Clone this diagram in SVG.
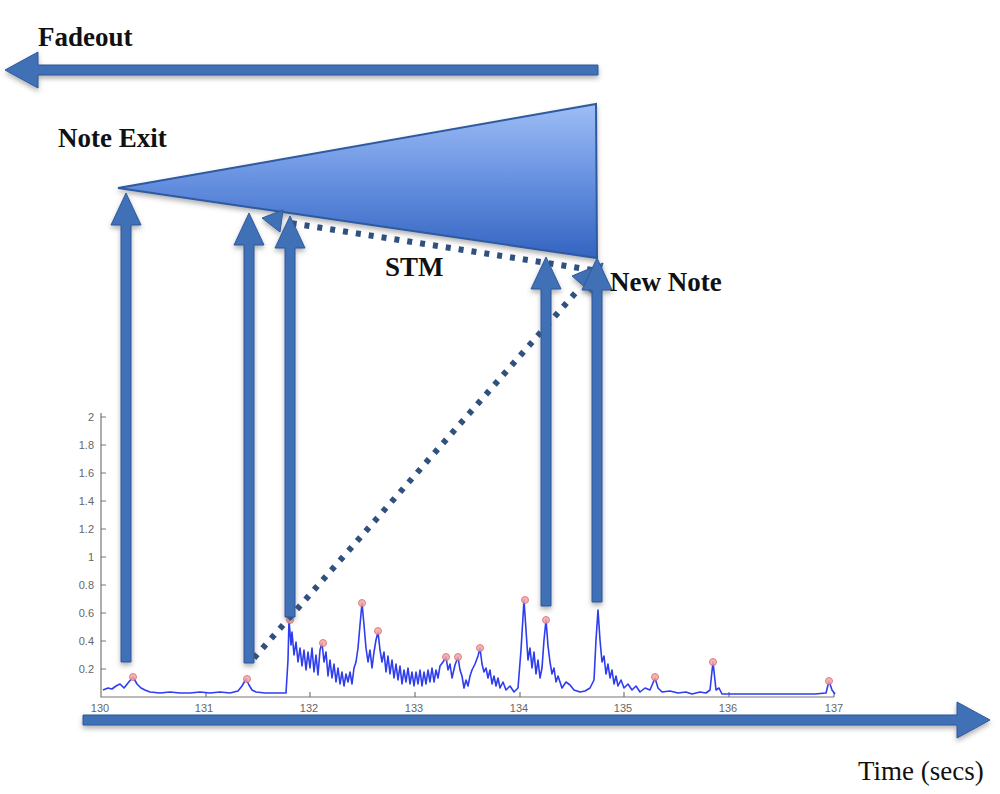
<svg xmlns="http://www.w3.org/2000/svg" width="1000" height="794" viewBox="0 0 1000 794">
<defs>
<linearGradient id="tri" x1="0" y1="104" x2="0" y2="258" gradientUnits="userSpaceOnUse">
<stop offset="0" stop-color="#9dbdf5"/>
<stop offset="0.5" stop-color="#6690e0"/>
<stop offset="1" stop-color="#3364c0"/>
</linearGradient>
<filter id="sh" x="-20%" y="-20%" width="140%" height="160%">
<feDropShadow dx="0" dy="3" stdDeviation="2.5" flood-color="#555" flood-opacity="0.45"/>
</filter>
<filter id="soft" x="-5%" y="-5%" width="110%" height="110%">
<feGaussianBlur stdDeviation="0.6"/>
</filter>
<style>
.arr{fill:#3f6fb6;stroke:#2f5b9c;stroke-width:1;filter:url(#sh)}
.dot{fill:none;stroke:#30507f;stroke-width:6;stroke-dasharray:5 8}
.lbl{font-family:"Liberation Serif",serif;font-weight:bold;font-size:27px;fill:#111}
.tick{font-family:"Liberation Sans",sans-serif;font-size:11px;fill:#666}
.ax{stroke:#777;stroke-width:1.2;fill:none}
.sig{fill:none;stroke:#2d3cf0;stroke-width:1.6;stroke-linejoin:round}
.mk{fill:#f3a6a6;stroke:#d86a6a;stroke-width:1;opacity:0.85}
</style>
</defs>
<rect width="1000" height="794" fill="#fff"/>

<g id="plot">
<path class="ax" d="M101 413 L101 697 L834 697"/>
<g class="ax">
<path d="M101 417h5M101 445h5M101 473h5M101 501h5M101 529h5M101 557h5M101 585h5M101 613h5M101 641h5M101 669h5"/>
<path d="M206 697v-5M310 697v-5M415 697v-5M520 697v-5M624 697v-5M729 697v-5M834 697v-5"/>
</g>
<g class="tick" text-anchor="end">
<text x="94" y="421">2</text>
<text x="94" y="449">1.8</text>
<text x="94" y="477">1.6</text>
<text x="94" y="505">1.4</text>
<text x="94" y="533">1.2</text>
<text x="94" y="561">1</text>
<text x="94" y="589">0.8</text>
<text x="94" y="617">0.6</text>
<text x="94" y="645">0.4</text>
<text x="94" y="673">0.2</text>
</g>
<g class="tick" text-anchor="middle">
<text x="100" y="712">130</text>
<text x="204" y="712">131</text>
<text x="309" y="712">132</text>
<text x="414" y="712">133</text>
<text x="519" y="712">134</text>
<text x="623" y="712">135</text>
<text x="728" y="712">136</text>
<text x="834" y="712">137</text>
</g>
<path class="sig" filter="url(#soft)" d="M103 690 L108 688 L112 689 L116 686 L120 684 L124 688 L128 683 L133 677 L137 684 L141 688 L145 690 L150 692 L160 693 L170 692 L180 693 L190 693 L200 692 L210 693 L220 692 L230 693 L238 691 L242 686 L246 679 L249 685 L252 690 L256 692 L265 693 L275 693 L286 693 L288 660 L289 620 L291 645 L292 632 L294 655 L296 642 L298 662 L300 648 L302 666 L304 650 L306 670 L308 652 L310 668 L312 648 L314 672 L316 655 L318 675 L320 650 L322 643 L324 662 L326 652 L328 676 L330 660 L332 678 L334 664 L336 682 L338 668 L340 684 L342 672 L344 686 L346 674 L348 682 L350 672 L352 684 L354 668 L356 662 L358 648 L360 625 L362 603 L364 625 L366 648 L368 662 L370 650 L372 668 L374 652 L376 640 L378 632 L380 650 L382 662 L384 652 L386 672 L388 656 L390 674 L392 660 L394 678 L396 664 L398 680 L400 666 L402 684 L404 670 L406 682 L408 668 L410 684 L412 672 L414 686 L416 672 L418 684 L420 670 L422 686 L424 672 L426 684 L428 670 L430 682 L432 668 L434 682 L436 670 L438 678 L440 666 L443 662 L446 657 L448 670 L450 664 L452 678 L455 665 L458 657 L460 670 L462 676 L464 688 L466 680 L468 686 L470 676 L472 670 L475 664 L478 656 L480 648 L482 664 L484 672 L486 668 L488 678 L490 670 L492 684 L494 676 L496 686 L498 678 L500 688 L503 682 L506 690 L510 686 L514 692 L518 688 L521 650 L524 600 L526 630 L528 660 L530 648 L532 668 L534 652 L536 674 L538 660 L540 678 L542 668 L544 640 L546 620 L548 646 L550 662 L552 674 L554 668 L556 682 L558 676 L562 688 L566 682 L570 685 L574 690 L580 692 L585 691 L590 688 L594 680 L596 640 L598 610 L600 640 L602 662 L604 656 L606 674 L608 664 L610 678 L612 670 L614 684 L616 676 L618 686 L621 680 L624 688 L628 684 L632 690 L636 686 L640 692 L645 688 L650 690 L655 678 L658 688 L662 692 L670 691 L678 693 L686 692 L692 694 L700 692 L706 693 L710 690 L713 662 L716 690 L719 688 L722 694 L735 694 L760 694 L790 694 L815 694 L826 693 L829 681 L832 690 L835 694"/>
<g>
<circle class="mk" cx="133" cy="677" r="3.5"/>
<circle class="mk" cx="247" cy="679" r="3.5"/>
<circle class="mk" cx="290" cy="620" r="3.5"/>
<circle class="mk" cx="323" cy="643" r="3.5"/>
<circle class="mk" cx="362" cy="603" r="3.5"/>
<circle class="mk" cx="378" cy="631" r="3.5"/>
<circle class="mk" cx="446" cy="657" r="3.5"/>
<circle class="mk" cx="458" cy="657" r="3.5"/>
<circle class="mk" cx="480" cy="648" r="3.5"/>
<circle class="mk" cx="525" cy="600" r="3.5"/>
<circle class="mk" cx="546" cy="620" r="3.5"/>
<circle class="mk" cx="655" cy="677" r="3.5"/>
<circle class="mk" cx="713" cy="662" r="3.5"/>
<circle class="mk" cx="829" cy="681" r="3.5"/>
</g>
</g>

<g id="triangle">
<polygon points="118,188 596,104 597,258" fill="url(#tri)" stroke="#2d5aa0" stroke-width="2" filter="url(#sh)"/>
</g>

<g id="connectors">
<path id="fadeout-arrow" class="arr" d="M598 65 L38 65 L38 52 L5 70 L38 88 L38 75 L598 75 Z"/>
<path id="time-arrow" class="arr" d="M83 715 L957 715 L957 702 L990 720 L957 738 L957 725 L83 725 Z"/>
<line class="dot" x1="592" y1="270" x2="284" y2="222"/>
<polygon class="arr" points="262,218 283,210 280,232"/>
<line class="dot" x1="254" y1="658" x2="578" y2="290"/>
<polygon class="arr" points="603,263 594,295 572,276"/>
<path class="arr" d="M121 662 L121 225 L111 225 L126 193 L141 225 L131 225 L131 662 Z"/>
<path class="arr" d="M244 663 L244 245 L234 245 L249 213 L264 245 L254 245 L254 663 Z"/>
<path class="arr" d="M285 617 L285 248 L275 248 L290 216 L305 248 L295 248 L295 617 Z"/>
<path class="arr" d="M541 606 L541 289 L531 289 L546 257 L561 289 L551 289 L551 606 Z"/>
<path class="arr" d="M592 602 L592 290 L582 290 L597 258 L612 290 L602 290 L602 602 Z"/>
</g>

<g id="labels">
<text class="lbl" x="38" y="46">Fadeout</text>
<text class="lbl" x="58" y="147">Note Exit</text>
<text class="lbl" x="385" y="276">STM</text>
<text class="lbl" x="610" y="291">New Note</text>
<text x="858" y="780" style="font-family:'Liberation Serif',serif;font-size:27px;fill:#111">Time (secs)</text>
</g>
</svg>
